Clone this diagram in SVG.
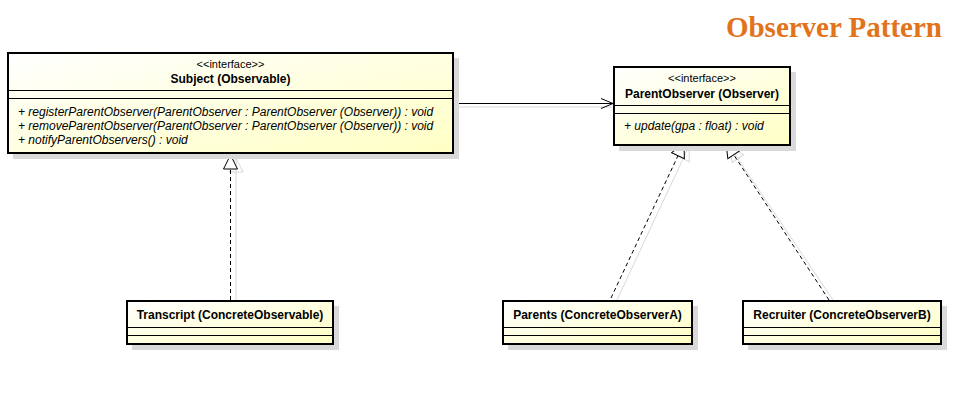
<svg xmlns="http://www.w3.org/2000/svg" width="966" height="403" viewBox="0 0 966 403">
<defs>
<linearGradient id="g" x1="0" y1="0" x2="1" y2="1">
<stop offset="0" stop-color="#FFFFFF"/>
<stop offset="1" stop-color="#FFFFC4"/>
</linearGradient>
<marker id="open" markerWidth="14" markerHeight="12" refX="13" refY="6" orient="auto" markerUnits="userSpaceOnUse">
<path d="M1,1 L13,6 L1,11" fill="none" stroke="#000" stroke-width="1"/>
</marker>
<marker id="tri" markerWidth="16" markerHeight="16" refX="15" refY="8" orient="auto" markerUnits="userSpaceOnUse">
<path d="M1,1 L15,8 L1,15 Z" fill="#fff" stroke="#000" stroke-width="1"/>
</marker>
<marker id="triS" markerWidth="16" markerHeight="16" refX="15" refY="8" orient="auto" markerUnits="userSpaceOnUse">
<path d="M1,1 L15,8 L1,15 Z" fill="none" stroke="#d8d8d8" stroke-width="1"/>
</marker>
</defs>
<style>
.box{fill:url(#g);stroke:#000;stroke-width:2}
.sh{fill:#d9d9d9}
.sep{stroke:#000;stroke-width:1}
text{font-family:"Liberation Sans",Arial,sans-serif;font-size:12px;fill:#000}
.st{text-anchor:middle;font-size:11px}
.nm{text-anchor:middle;font-weight:bold}
.op{font-style:italic}
.dash{fill:none;stroke:#000;stroke-width:1;stroke-dasharray:4,3}
.shl{fill:none;stroke:#d8d8d8;stroke-width:1}
.title{font-family:"Liberation Serif","Times New Roman",serif;font-size:29px;font-weight:bold;fill:#E3731B;text-anchor:end}
</style>
<rect width="966" height="403" fill="#fff"/>
<text class="title" x="942" y="37">Observer Pattern</text>

<g id="connectors">
<line class="shl" x1="454" y1="107" x2="618" y2="107"/>
<line x1="454" y1="103.5" x2="613" y2="103.5" stroke="#000" stroke-width="1" marker-end="url(#open)"/>
<line class="shl" x1="236" y1="300" x2="236" y2="158" marker-end="url(#triS)"/>
<line class="dash" x1="230.5" y1="300" x2="230.5" y2="155" marker-end="url(#tri)"/>
<line class="shl" x1="617" y1="300" x2="689" y2="146" marker-end="url(#triS)"/>
<line class="dash" x1="611" y1="298" x2="684" y2="143" marker-end="url(#tri)"/>
<line class="shl" x1="833" y1="300" x2="730" y2="147" marker-end="url(#triS)"/>
<line class="dash" x1="829" y1="300" x2="726" y2="143" marker-end="url(#tri)"/>
</g>

<g id="subject">
<rect class="sh" x="13" y="58" width="446" height="101"/>
<rect class="box" x="8" y="53" width="445" height="100"/>
<line class="sep" x1="8" y1="90.5" x2="453" y2="90.5"/>
<line class="sep" x1="8" y1="98.5" x2="453" y2="98.5"/>
<text class="st" x="230.5" y="68">&lt;&lt;interface&gt;&gt;</text>
<text class="nm" x="230.5" y="83">Subject (Observable)</text>
<text class="op" x="18" y="116">+ registerParentObserver(ParentObserver : ParentObserver (Observer)) : void</text>
<text class="op" x="18" y="130">+ removeParentObserver(ParentObserver : ParentObserver (Observer)) : void</text>
<text class="op" x="18" y="144">+ notifyParentObservers() : void</text>
</g>

<g id="parentobserver">
<rect class="sh" x="619" y="72" width="177" height="79"/>
<rect class="box" x="614" y="67" width="176" height="78"/>
<line class="sep" x1="614" y1="105.5" x2="790" y2="105.5"/>
<line class="sep" x1="614" y1="113.5" x2="790" y2="113.5"/>
<text class="st" x="702" y="82">&lt;&lt;interface&gt;&gt;</text>
<text class="nm" x="702" y="98">ParentObserver (Observer)</text>
<text class="op" x="624" y="130">+ update(gpa : float) : void</text>
</g>

<g id="transcript">
<rect class="sh" x="132" y="306" width="207" height="44"/>
<rect class="box" x="127" y="301" width="206" height="43"/>
<line class="sep" x1="127" y1="327.5" x2="333" y2="327.5"/>
<line class="sep" x1="127" y1="335.5" x2="333" y2="335.5"/>
<text class="nm" x="230" y="319">Transcript (ConcreteObservable)</text>
</g>

<g id="parents">
<rect class="sh" x="508" y="306" width="190" height="44"/>
<rect class="box" x="503" y="301" width="189" height="43"/>
<line class="sep" x1="503" y1="327.5" x2="692" y2="327.5"/>
<line class="sep" x1="503" y1="335.5" x2="692" y2="335.5"/>
<text class="nm" x="597.5" y="319">Parents (ConcreteObserverA)</text>
</g>

<g id="recruiter">
<rect class="sh" x="748" y="306" width="199" height="44"/>
<rect class="box" x="743" y="301" width="198" height="43"/>
<line class="sep" x1="743" y1="327.5" x2="941" y2="327.5"/>
<line class="sep" x1="743" y1="335.5" x2="941" y2="335.5"/>
<text class="nm" x="842" y="319">Recruiter (ConcreteObserverB)</text>
</g>
</svg>
